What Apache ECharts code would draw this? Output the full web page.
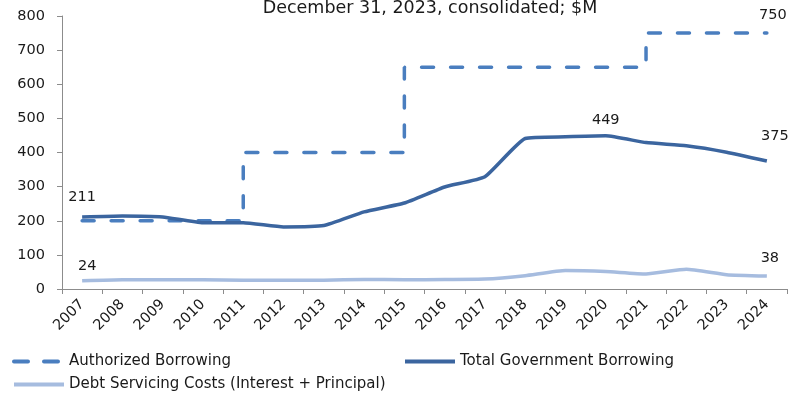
<!DOCTYPE html>
<html>
<head>
<meta charset="utf-8">
<script src="https://cdn.jsdelivr.net/npm/echarts@6/dist/echarts.min.js"></script>
<style>
  html, body { margin: 0; padding: 0; background: #fff; }
  #chart { width: 790px; height: 394px; }
</style>
</head>
<body>
<div id="chart"></div>
<script>
// Fiscal years on the category axis
const years = ['2007','2008','2009','2010','2011','2012','2013','2014','2015',
               '2016','2017','2018','2019','2020','2021','2022','2023','2024'];

// Borrowing authority limit ($M), stepped
const authorizedBorrowing = [200,200,200,200,200,400,400,400,400,
                             650,650,650,650,650,650,750,750,750];

// Total government borrowing ($M)
const totalBorrowing = [211,214,211,194,194,182,186,226,252,
                        299,329,441,446,449,429,420,401,375];

// Debt servicing costs, interest + principal ($M)
const debtServicing = [24,27,27,27,26,26,26,28,27,
                       28,29,39,54,51,44,58,42,38];

// Which points carry a value label
const authorizedLabelIdx = [17];
const totalLabelIdx = [0, 13, 17];
const debtLabelIdx = [0, 17];

const titleText = 'December 31, 2023, consolidated; $M';
const FONT = 'DejaVu Sans';
const TXT = '#1a1a1a';
const CLEAR = 'rgba(0,0,0,0)';

function withLabels(values, idxList, opts) {
  return values.map((v, i) => {
    if (!idxList.includes(i)) return v;
    const o = opts[i] || {};
    return {
      value: v,
      label: {
        show: true,
        position: 'top',
        distance: o.distance != null ? o.distance : 10,
        offset: o.offset || [0, 0],
        fontFamily: FONT,
        fontSize: 14.5,
        color: TXT
      }
    };
  });
}

const chart = echarts.init(document.getElementById('chart'));

const legendText = { fontFamily: FONT, fontSize: 15, color: TXT };
const legendCommon = {
  itemWidth: 50, itemHeight: 14, padding: 0,
  itemStyle: { color: CLEAR, borderColor: CLEAR, opacity: 0 },
  textStyle: legendText
};

chart.setOption({
  animation: false,
  backgroundColor: '#ffffff',
  graphic: [{
    type: 'text',
    x: 430,
    y: -1,
    style: {
      text: titleText,
      fontFamily: FONT,
      fontSize: 17.5,
      fill: TXT,
      textAlign: 'center',
      textVerticalAlign: 'top'
    }
  }],
  grid: { left: 62, right: 3, top: 16, bottom: 105 },
  legend: [
    Object.assign({ data: ['Authorized Borrowing'], left: 12, top: 354,
      lineStyle: { width: 4, type: [14, 16], cap: 'round' } }, legendCommon),
    Object.assign({ data: ['Total Government Borrowing'], left: 403, top: 354,
      lineStyle: { width: 4 } }, legendCommon),
    Object.assign({ data: ['Debt Servicing Costs (Interest + Principal)'], left: 12, top: 377,
      lineStyle: { width: 4 } }, legendCommon)
  ],
  xAxis: {
    type: 'category',
    data: years,
    boundaryGap: true,
    axisLine: { show: true, lineStyle: { color: '#8c8c8c', width: 1 } },
    axisTick: { show: true, length: 5, lineStyle: { color: '#8c8c8c' } },
    axisLabel: {
      rotate: 45,
      interval: 0,
      margin: 13,
      fontFamily: FONT,
      fontSize: 14.5,
      color: TXT
    },
    splitLine: { show: false }
  },
  yAxis: {
    type: 'value',
    min: 0,
    max: 800,
    interval: 100,
    axisLine: { show: true, lineStyle: { color: '#8c8c8c', width: 1 } },
    axisTick: { show: true, length: 5, lineStyle: { color: '#8c8c8c' } },
    axisLabel: {
      margin: 17,
      fontFamily: FONT,
      fontSize: 14.5,
      color: TXT
    },
    splitLine: { show: false }
  },
  series: [
    {
      name: 'Authorized Borrowing',
      type: 'line',
      step: 'start',
      symbol: 'circle',
      symbolSize: 1,
      showSymbol: true,
      itemStyle: { color: CLEAR },
      z: 2,
      lineStyle: { color: '#4a7ebf', width: 3.5, type: [12, 17], cap: 'round' },
      data: withLabels(authorizedBorrowing, authorizedLabelIdx, {
        17: { distance: 10, offset: [6, 0] }
      })
    },
    {
      name: 'Total Government Borrowing',
      type: 'line',
      symbol: 'circle',
      symbolSize: 1,
      showSymbol: true,
      itemStyle: { color: CLEAR },
      smooth: 0.15,
      z: 3,
      lineStyle: { color: '#3b659f', width: 3.5 },
      data: withLabels(totalBorrowing, totalLabelIdx, {
        0: { distance: 12 },
        13: { distance: 8 },
        17: { distance: 17, offset: [8, 0] }
      })
    },
    {
      name: 'Debt Servicing Costs (Interest + Principal)',
      type: 'line',
      symbol: 'circle',
      symbolSize: 1,
      showSymbol: true,
      itemStyle: { color: CLEAR },
      smooth: 0.15,
      z: 1,
      lineStyle: { color: '#a6bcdf', width: 3.5 },
      data: withLabels(debtServicing, debtLabelIdx, {
        0: { distance: 7, offset: [5, 0] },
        17: { distance: 10, offset: [3, 0] }
      })
    }
  ]
});
</script>
</body>
</html>
